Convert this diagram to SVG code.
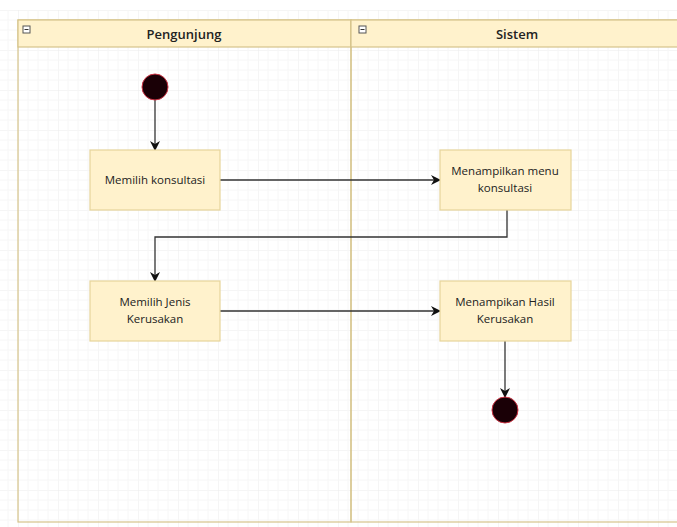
<svg xmlns="http://www.w3.org/2000/svg" width="677" height="527" viewBox="0 0 677 527">
<defs>
<pattern id="grid" width="40" height="40" patternUnits="userSpaceOnUse" x="18" y="10">
<path d="M40 0H0V40" fill="none" stroke="#ececec" stroke-width="1"/>
<path d="M10 0V40M20 0V40M30 0V40M0 10H40M0 20H40M0 30H40" fill="none" stroke="#f6f6f6" stroke-width="1"/>
</pattern>
<marker id="arr" viewBox="0 0 10 10" refX="9" refY="5" markerWidth="10" markerHeight="10" markerUnits="userSpaceOnUse" orient="auto">
<path d="M0 0L10 5L0 10L3 5Z" fill="#111"/>
</marker>
<style>
.lane{fill:none;stroke:#d6c48a;stroke-width:1.2}
.head{fill:#fff2cc;stroke:#d6c48a;stroke-width:1.2}
.box{fill:#fff2cc;stroke:#e6d49a;stroke-width:1.2}
.t{font-family:"Open Sans","Liberation Sans",sans-serif;font-size:11.5px;fill:#222;text-anchor:middle}
.h{font-family:"Open Sans","Liberation Sans",sans-serif;font-size:13px;font-weight:600;fill:#222;text-anchor:middle}
.c{fill:none;stroke:#333;stroke-width:1.3}
.dot{fill:#1a0006;stroke:#cc3344;stroke-width:1}
</style>
</defs>
<rect width="677" height="527" fill="#ffffff"/>
<rect x="0" y="10" width="677" height="517" fill="url(#grid)"/>
<g id="lane-pengunjung">
<rect class="lane" x="18" y="20" width="333" height="502"/>
<rect class="head" x="18" y="20" width="333" height="27"/>
<rect x="23" y="26" width="7" height="7" fill="#fff" stroke="#555" stroke-width="1"/>
<line x1="24.5" y1="29.5" x2="28.5" y2="29.5" stroke="#333"/>
<text class="h" x="184" y="39">Pengunjung</text>
</g>
<g id="lane-sistem">
<rect class="lane" x="351" y="20" width="340" height="502"/>
<rect class="head" x="351" y="20" width="340" height="27"/>
<rect x="359" y="26" width="7" height="7" fill="#fff" stroke="#555" stroke-width="1"/>
<line x1="360.5" y1="29.5" x2="364.5" y2="29.5" stroke="#333"/>
<text class="h" x="517" y="39">Sistem</text>
</g>
<g id="connectors">
<line class="c" x1="155" y1="100" x2="155" y2="150" marker-end="url(#arr)"/>
<line class="c" x1="220" y1="180" x2="440" y2="180" marker-end="url(#arr)"/>
<polyline class="c" points="507,210 507,237 155,237 155,281" marker-end="url(#arr)"/>
<line class="c" x1="220" y1="311" x2="440" y2="311" marker-end="url(#arr)"/>
<line class="c" x1="505" y1="341" x2="505" y2="397" marker-end="url(#arr)"/>
</g>
<g id="start">
<circle class="dot" cx="155" cy="87" r="13"/>
</g>
<g id="memilih-konsultasi">
<rect class="box" x="90" y="150" width="130" height="60"/>
<text class="t" x="155" y="184">Memilih konsultasi</text>
</g>
<g id="menampilkan-menu">
<rect class="box" x="440" y="150" width="131" height="60"/>
<text class="t" x="505" y="175">Menampilkan menu</text>
<text class="t" x="505" y="192">konsultasi</text>
</g>
<g id="memilih-jenis">
<rect class="box" x="90" y="281" width="130" height="60"/>
<text class="t" x="155" y="306">Memilih Jenis</text>
<text class="t" x="155" y="323">Kerusakan</text>
</g>
<g id="menampikan-hasil">
<rect class="box" x="440" y="281" width="131" height="60"/>
<text class="t" x="505" y="306">Menampikan Hasil</text>
<text class="t" x="505" y="323">Kerusakan</text>
</g>
<g id="end">
<circle class="dot" cx="505" cy="410" r="13"/>
</g>
</svg>
